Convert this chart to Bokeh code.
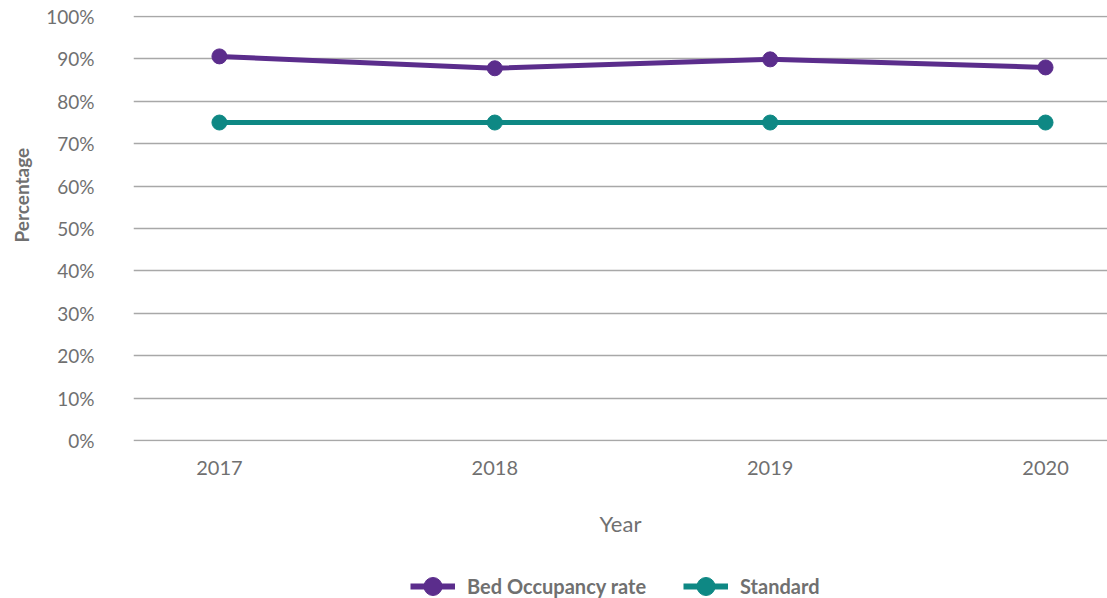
from bokeh.plotting import figure
from bokeh.layouts import column
from bokeh.models import Legend, LegendItem, FixedTicker, Range1d, ColumnDataSource, Title
from bokeh.embed import file_html
from bokeh.resources import INLINE

years = [2017, 2018, 2019, 2020]
year_labels = ["2017", "2018", "2019", "2020"]
occupancy = [90.6, 87.8, 89.9, 88.0]
standard = [75, 75, 75, 75]
y_ticks = [0, 10, 20, 30, 40, 50, 60, 70, 80, 90, 100]
series_names = ["Bed Occupancy rate", "Standard"]

PURPLE = "#5b2d8c"
TEAL = "#0e8884"
GREY = "#707070"
FONT = "Lato"

src = ColumnDataSource(dict(x=years, occ=occupancy, std=standard))

p = figure(width=1107, height=545, output_backend="svg", toolbar_location=None,
           x_range=Range1d(2016.688, 2020.225), y_range=Range1d(-0.25, 100.25),
           min_border_left=131, min_border_top=15, min_border_right=0, min_border_bottom=104)
p.outline_line_color = None
p.background_fill_color = "white"

p.line("x", "occ", source=src, line_color=PURPLE, line_width=5)
p.scatter("x", "occ", source=src, size=15, fill_color=PURPLE, line_color=PURPLE)
p.line("x", "std", source=src, line_color=TEAL, line_width=5)
p.scatter("x", "std", source=src, size=15, fill_color=TEAL, line_color=TEAL)

p.xaxis.ticker = FixedTicker(ticks=years)
p.xaxis.major_label_overrides = {y: s for y, s in zip(years, year_labels)}
p.yaxis.ticker = FixedTicker(ticks=y_ticks)
p.yaxis.major_label_overrides = {t: f"{t}%" for t in y_ticks}

for ax in (p.xaxis[0], p.yaxis[0]):
    ax.axis_line_color = None
    ax.major_tick_line_color = None
    ax.minor_tick_line_color = None
    ax.major_label_text_font = FONT
    ax.major_label_text_color = GREY
    ax.axis_label_text_font = FONT
    ax.axis_label_text_color = GREY

p.xaxis.major_label_text_font_size = "20px"
p.yaxis.major_label_text_font_size = "19px"

p.xaxis.major_label_standoff = 13
p.xaxis.axis_label = "Year"
p.xaxis.axis_label_text_font_style = "normal"
p.xaxis.axis_label_text_font_size = "22px"
p.xaxis.axis_label_standoff = 32

p.yaxis.major_label_standoff = 33

ytitle = Title(text="Percentage", align="left", vertical_align="top", offset=199, standoff=18,
               text_font=FONT, text_font_size="19px", text_font_style="bold", text_color=GREY)
p.add_layout(ytitle, "left")

p.xgrid.grid_line_color = None
p.ygrid.ticker = FixedTicker(ticks=y_ticks)
p.ygrid.grid_line_color = "#a8a8a8"
p.ygrid.grid_line_width = 1.3

# legend strip: a second figure whose ranges keep the series out of view,
# so only the legend (built from those series' renderers) is visible
lg = figure(width=1107, height=53, output_backend="svg", toolbar_location=None,
            x_axis_type=None, y_axis_type=None, min_border=0,
            x_range=Range1d(0, 1), y_range=Range1d(0, 1))
lg.outline_line_color = None
lg.xgrid.visible = False
lg.ygrid.visible = False
d1 = lg.line("x", "occ", source=src, line_color=PURPLE, line_width=6)
e1 = lg.scatter("x", "occ", source=src, fill_color=PURPLE, line_color=PURPLE)
d2 = lg.line("x", "std", source=src, line_color=TEAL, line_width=6)
e2 = lg.scatter("x", "std", source=src, fill_color=TEAL, line_color=TEAL)

legend = Legend(items=[LegendItem(label=series_names[0], renderers=[d1, e1]),
                       LegendItem(label=series_names[1], renderers=[d2, e2])],
                orientation="horizontal", location=(277, -11),
                label_text_font=FONT, label_text_font_size="20px",
                label_text_font_style="bold", label_text_color=GREY,
                glyph_width=45, glyph_height=46, spacing=37, label_standoff=12,
                border_line_color=None, background_fill_alpha=0, margin=0, padding=0)
lg.add_layout(legend, "center")

layout = column(p, lg, spacing=0)
open("out.html", "w").write(file_html(layout, INLINE))
